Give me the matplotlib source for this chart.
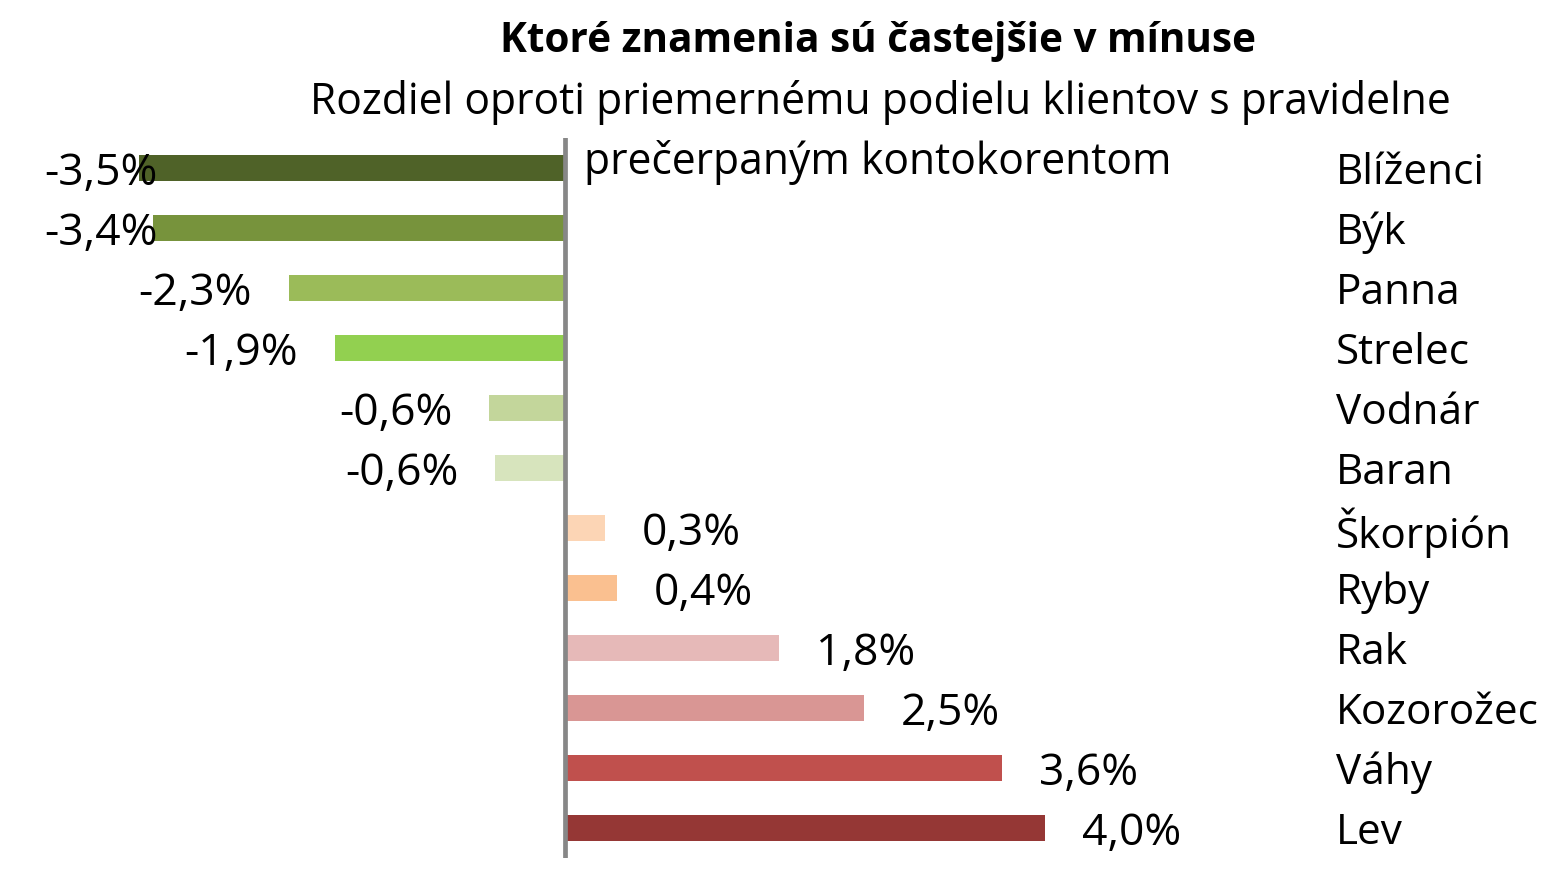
import matplotlib
matplotlib.use("Agg")
import matplotlib.pyplot as plt
from matplotlib.transforms import blended_transform_factory

plt.rcParams['font.family'] = ['Open Sans', 'DejaVu Sans']

categories = ["Blíženci", "Býk", "Panna", "Strelec", "Vodnár", "Baran",
              "Škorpión", "Ryby", "Rak", "Kozorožec", "Váhy", "Lev"]
values = [-3.55, -3.43, -2.30, -1.92, -0.63, -0.58,
          0.33, 0.43, 1.78, 2.49, 3.64, 4.00]
value_labels = ["-3,5%", "-3,4%", "-2,3%", "-1,9%", "-0,6%", "-0,6%",
                "0,3%", "0,4%", "1,8%", "2,5%", "3,6%", "4,0%"]
colors = ["#4F6228", "#77933C", "#9BBB59", "#92D050", "#C3D69B", "#D7E4BD",
          "#FCD5B5", "#FAC090", "#E6B9B8", "#D99694", "#C0504D", "#953735"]

title = "Ktoré znamenia sú častejšie v mínuse"
subtitle1 = "Rozdiel oproti priemernému podielu klientov s pravidelne"
subtitle2 = "prečerpaným kontokorentom"

W, H = 1544, 876
fig = plt.figure(figsize=(W / 100, H / 100), dpi=100)

# axes in pixel terms
ax_left, ax_right = 40, 1300
ax_top, ax_bottom = 138, 858
ax = fig.add_axes([ax_left / W, 1 - ax_bottom / H,
                   (ax_right - ax_left) / W, (ax_bottom - ax_top) / H])
zero_px = 565
ppu = 120.0
ax.set_xlim((ax_left - zero_px) / ppu, (ax_right - zero_px) / ppu)
n = len(categories)
ax.set_ylim(n - 0.5, -0.5)
ax.axis('off')

ypos = list(range(n))
ax.barh(ypos, values, height=0.42, color=colors, zorder=2)
ax.axvline(0, color="#878787", lw=3.4, zorder=3)

fs_val = 32
fs_cat = 30.4
gap = 37 / ppu
xmin = ax.get_xlim()[0]
for y, v, lab in zip(ypos, values, value_labels):
    if v < 0:
        x = v - gap
        if v < -3.0:
            ax.text(xmin + 4 / ppu, y, lab, ha='left', va='center_baseline',
                    fontsize=fs_val, color='black', zorder=4)
        else:
            ax.text(x, y, lab, ha='right', va='center_baseline', fontsize=fs_val,
                    color='black', zorder=4)
    else:
        ax.text(v + gap, y, lab, ha='left', va='center_baseline', fontsize=fs_val,
                color='black', zorder=4)

trans = blended_transform_factory(fig.transFigure, ax.transData)
for y, c in zip(ypos, categories):
    ax.text(1336 / W, y, c, transform=trans, ha='left', va='center_baseline',
            fontsize=fs_cat, color='black')

fig.text(878 / W, 1 - 37 / H, title, ha='center', va='center_baseline',
         fontsize=29.2, fontweight='bold', color='black')
fig.text(880 / W, 1 - 97 / H, subtitle1, ha='center', va='center_baseline',
         fontsize=30.7, color='black')
fig.text(878 / W, 1 - 157 / H, subtitle2, ha='center', va='center_baseline',
         fontsize=30.7, color='black')

fig.savefig("out.png", dpi=100, facecolor='white')
